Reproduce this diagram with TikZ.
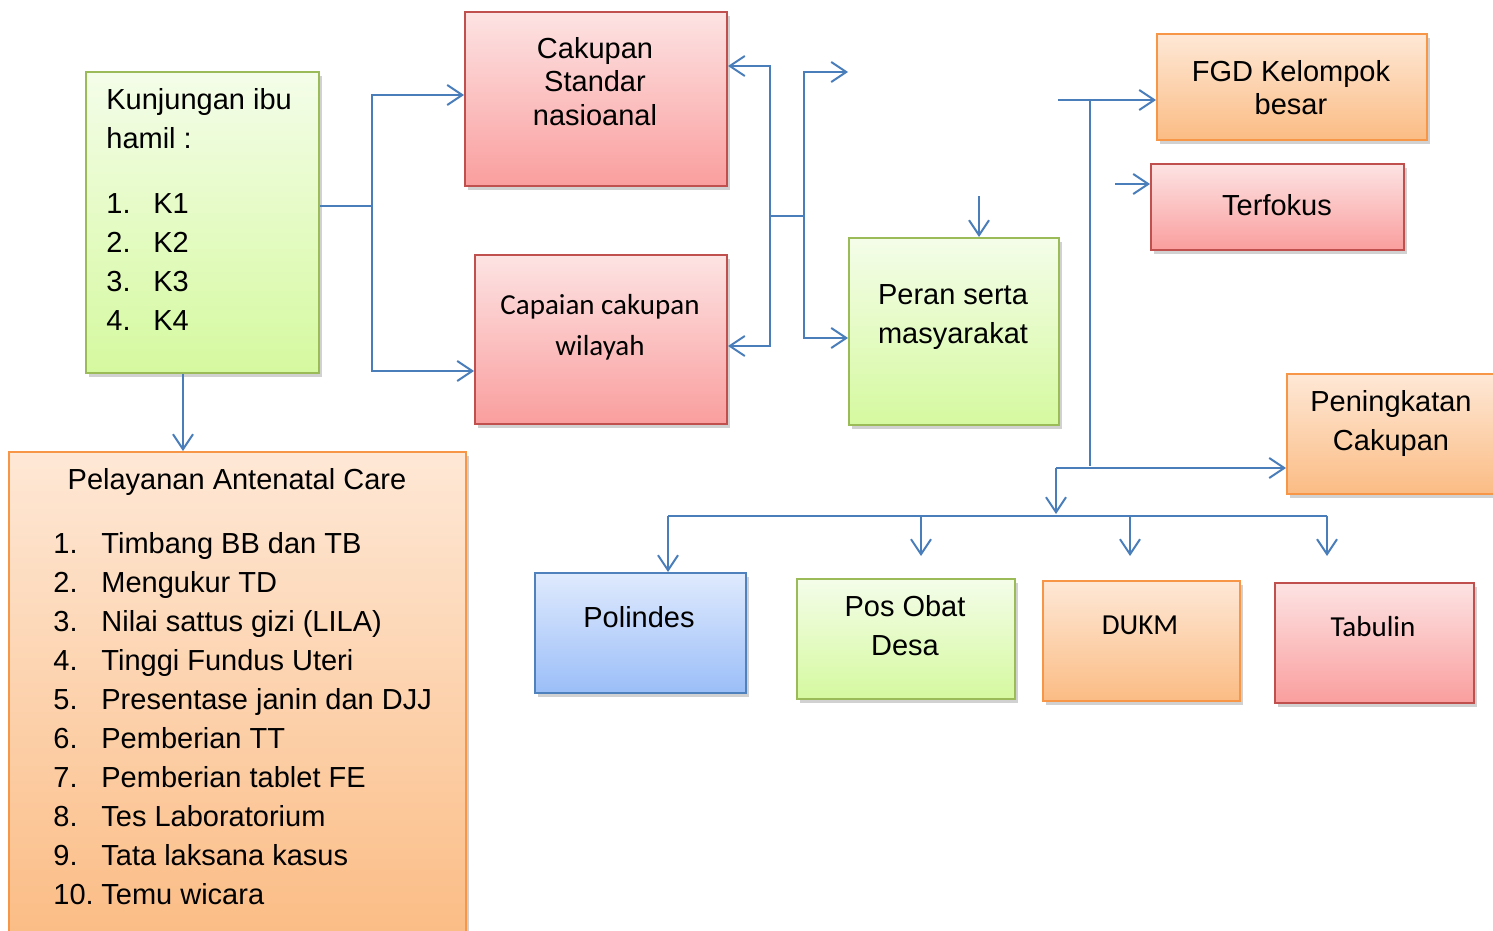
\documentclass[tikz,border=0pt]{standalone}
\usepackage{fontspec}
\setmainfont{Liberation Sans}
\newfontfamily\calibri{Carlito}
\usetikzlibrary{positioning,arrows.meta,shadows}
\definecolor{birugaris}{HTML}{4A7EBB}
\definecolor{hijauatas}{HTML}{F4FDE9}
\definecolor{hijaubawah}{HTML}{D5F99F}
\definecolor{hijautepi}{HTML}{9BBB59}
\definecolor{merahatas}{HTML}{FDE3E3}
\definecolor{merahbawah}{HTML}{FA9E9E}
\definecolor{merahtepi}{HTML}{C0504D}
\definecolor{oranyeatas}{HTML}{FEE8D6}
\definecolor{oranyebawah}{HTML}{FBBC84}
\definecolor{oranyetepi}{HTML}{F79646}
\definecolor{biruatas}{HTML}{DFEAFD}
\definecolor{birubawah}{HTML}{9BBEF8}
\definecolor{birutepi}{HTML}{4F81BD}
\tikzset{
  kotak/.style={draw,line width=1pt,inner sep=0pt,anchor=north west,
                drop shadow={shadow xshift=1.5pt,shadow yshift=-2pt,opacity=0.3,fill=black!60}},
  hijau/.style={kotak,draw=hijautepi,top color=hijauatas,bottom color=hijaubawah},
  merah/.style={kotak,draw=merahtepi,top color=merahatas,bottom color=merahbawah},
  oranye/.style={kotak,draw=oranyetepi,top color=oranyeatas,bottom color=oranyebawah},
  biru/.style={kotak,draw=birutepi,top color=biruatas,bottom color=birubawah},
  teks/.style={align=center,inner sep=0pt,font=\fontsize{14.5}{19.5}\selectfont},
  rapat/.style={teks,font=\fontsize{14.5}{16.75}\selectfont},
  tekscal/.style={teks,font=\calibri\fontsize{14.5}{20.5}\selectfont},
  daftar/.style={align=left,inner sep=0pt,anchor=north west,font=\fontsize{14.5}{19.5}\selectfont},
  sambung/.style={draw=birugaris,line width=1pt},
  panah/.style={sambung,-{Straight Barb[length=7.5pt,width=10pt]}},
}
\begin{document}
\begin{tikzpicture}[x=0.5pt,y=-0.5pt]
  \useasboundingbox (0,0) rectangle (1493,931);
  % kotak-kotak
  \node[hijau,minimum width=116.5pt,minimum height=150.5pt] (kun) at (85,71) {};
  \node[merah,minimum width=131pt,minimum height=87pt] (cak) at (464,11) {};
  \node[merah,minimum width=126pt,minimum height=84.5pt] (cap) at (474,254) {};
  \node[hijau,minimum width=105pt,minimum height=93.5pt] (per) at (848,237) {};
  \node[oranye,minimum width=135pt,minimum height=53pt] (fgd) at (1156,33) {};
  \node[merah,minimum width=126.5pt,minimum height=43pt] (ter) at (1150,163) {};
  \node[oranye,minimum width=105pt,minimum height=60pt] (pen) at (1286,373) {};
  \node[oranye,minimum width=228.5pt,minimum height=245pt] (pel) at (8,451) {};
  \node[biru,minimum width=105.5pt,minimum height=60pt] (pol) at (534,572) {};
  \node[hijau,minimum width=109pt,minimum height=60pt] (pos) at (796,578) {};
  \node[oranye,minimum width=98.5pt,minimum height=60pt] (dukm) at (1042,580) {};
  \node[merah,minimum width=99.5pt,minimum height=60pt] (tab) at (1274,582) {};
  % teks
  \node[daftar] (kunteks) at (106,88.5) {Kunjungan ibu\\hamil :\\[13pt]
    \makebox[23.5pt][l]{1.}K1\\\makebox[23.5pt][l]{2.}K2\\
    \makebox[23.5pt][l]{3.}K3\\\makebox[23.5pt][l]{4.}K4};
  \node[rapat] (cakteks) at (595,81.5) {Cakupan\\Standar\\nasioanal};
  \node[tekscal] (capteks) at (600,327) {Capaian cakupan\\wilayah};
  \node[teks] (perteks) at (953,317.5) {Peran serta\\masyarakat};
  \node[rapat] (fgdteks) at (1291,87.5) {FGD Kelompok\\besar};
  \node[teks] (terteks) at (1277,205) {Terfokus};
  \node[teks] (penteks) at (1391,423.5) {Peningkatan\\Cakupan};
  \node[teks] (pelteks) at (237,482) {Pelayanan Antenatal Care};
  \node[daftar] (pellist) at (53,532.5) {\makebox[24pt][l]{1.}Timbang BB dan TB\\
    \makebox[24pt][l]{2.}Mengukur TD\\
    \makebox[24pt][l]{3.}Nilai sattus gizi (LILA)\\
    \makebox[24pt][l]{4.}Tinggi Fundus Uteri\\
    \makebox[24pt][l]{5.}Presentase janin dan DJJ\\
    \makebox[24pt][l]{6.}Pemberian TT\\
    \makebox[24pt][l]{7.}Pemberian tablet FE\\
    \makebox[24pt][l]{8.}Tes Laboratorium\\
    \makebox[24pt][l]{9.}Tata laksana kasus\\
    \makebox[24pt][l]{10.}Temu wicara};
  \node[teks] (polteks) at (639,617) {Polindes};
  \node[teks] (posteks) at (905,625.5) {Pos Obat\\Desa};
  \node[tekscal] (dukmteks) at (1140,625) {DUKM};
  \node[tekscal] (tabteks) at (1373,627) {Tabulin};
  % titik cabang dan ujung bebas
  \coordinate (c1) at (372,206);
  \coordinate (c2) at (770,216);
  \coordinate (c3) at (804,216);
  \coordinate (u1) at (848,72);
  \coordinate (u2) at (979,196);
  \coordinate (c4) at (1058,100);
  \coordinate (c5) at (1090,100);
  \coordinate (c6) at (1090,466);
  \coordinate (u3) at (1115,184);
  \coordinate (c7) at (1056,468);
  \coordinate (c8) at (1056,516);
  \coordinate (c9) at (668,516);
  \coordinate (c10) at (1327,516);
  \coordinate (c11) at (921,516);
  \coordinate (c12) at (1130,516);
  \coordinate (u4) at (921,556);
  \coordinate (u5) at (1130,556);
  \coordinate (u6) at (1327,556);
  % panah
  \draw[sambung] (kun.east |- c1) -- (c1);
  \draw[panah] (c1) |- ([yshift=2pt]cak.west);
  \draw[panah] (c1) |- ([yshift=-15.75pt]cap.west);
  \draw[panah] ([xshift=-9.75pt]kun.south) -- ([xshift=-9.75pt]kun.south |- pel.north);
  \draw[panah] (c2) |- ([yshift=16.5pt]cak.east);
  \draw[panah] (c2) |- ([yshift=-3.25pt]cap.east);
  \draw[sambung] (c2) -- (c3);
  \draw[panah] (c3) |- (u1);
  \draw[panah] (c3) |- ([yshift=-3.25pt]per.west);
  \draw[panah] (u2) -- (u2 |- per.north);
  \draw[panah] (c4) -- (c4 -| fgd.west);
  \draw[sambung] (c5) -- (c6);
  \draw[panah] (u3) -- (u3 -| ter.west);
  \draw[panah] (c7) -- (c7 -| pen.west);
  \draw[panah] (c7) -- ([yshift=1pt]c8);
  \draw[sambung] (c9) -- (c10);
  \draw[panah] (c9) -- (c9 |- pol.north);
  \draw[panah] (c11) -- (u4);
  \draw[panah] (c12) -- (u5);
  \draw[panah] (c10) -- (u6);
\end{tikzpicture}
\end{document}
